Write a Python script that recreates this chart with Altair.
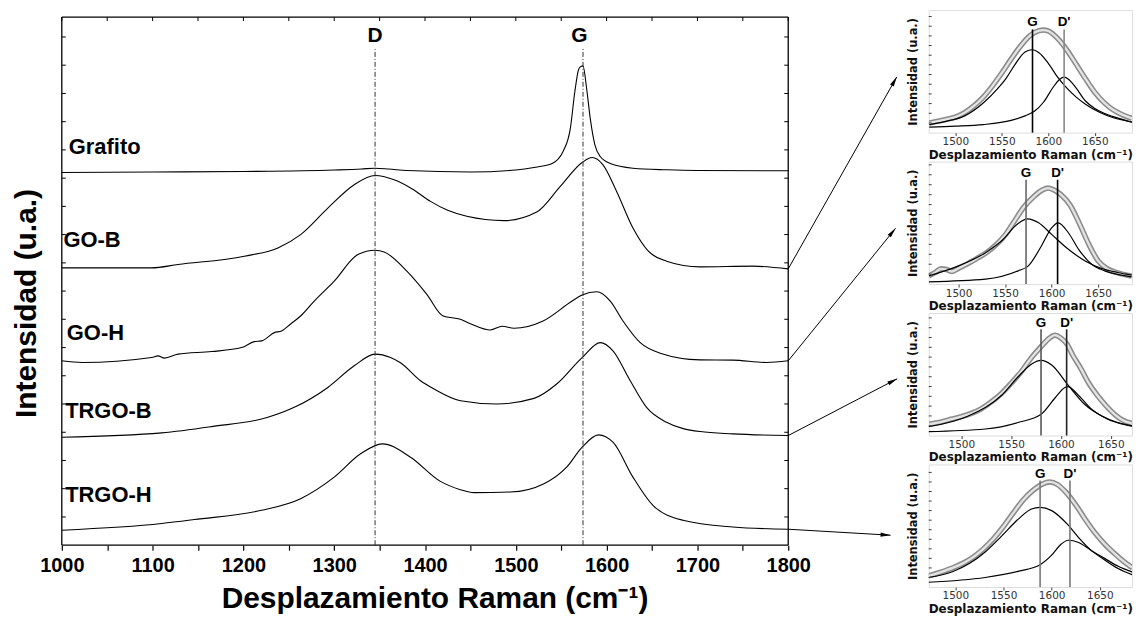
import math
import altair as alt
import pandas as pd

FONT = "Liberation Sans, Arial, Helvetica, sans-serif"
IFONT = "DejaVu Sans, Verdana, sans-serif"

# ---------------- main panel data (x in cm-1, y in arbitrary stacked units) ----------------
grafito_x = [1000, 1100, 1200, 1300, 1330, 1345, 1360, 1380, 1450, 1500, 1520, 1540, 1552, 1560, 1565, 1569, 1571, 1574, 1578, 1582, 1587, 1593, 1604, 1629, 1666, 1700, 1800]
grafito_y = [374, 374.5, 375, 376.5, 377.5, 378.3, 377.5, 376, 374.5, 376.5, 379, 383, 395, 418, 455, 477, 480, 481, 458, 428, 402, 390, 383, 378.3, 376.7, 376, 375.7]

go_b_x = [1000, 1099, 1128, 1201, 1238, 1263, 1293, 1322, 1345, 1366, 1386, 1406, 1425, 1446, 1487, 1523, 1549, 1573, 1584, 1596, 1611, 1629, 1646, 1666, 1703, 1761, 1800]
go_b_y = [278.3, 278.3, 281.7, 290, 298.3, 311.7, 338.3, 361.7, 371, 366.7, 357.5, 345, 336, 330, 325.7, 334.3, 360, 384, 389, 381.7, 355, 318.3, 295, 285, 279.3, 280, 277.3]

go_h_x = [1000, 1022, 1099, 1106, 1113, 1128, 1165, 1198, 1212, 1220, 1234, 1242, 1252, 1263, 1278, 1300, 1326, 1345, 1355, 1380, 1402, 1420, 1439, 1450, 1472, 1485, 1498, 1530, 1562, 1573, 1589, 1604, 1618, 1637, 1659, 1703, 1739, 1776, 1800]
go_h_y = [185, 183.3, 188.3, 190, 187.7, 191.7, 194.3, 198.3, 204.3, 205, 213.3, 215, 222, 230, 245, 265, 291.7, 296, 294.3, 275, 251.7, 230, 226.7, 222.3, 216, 219.7, 217.7, 225, 245, 251, 254.3, 245, 225, 203.3, 192.7, 186, 185.7, 183.3, 185]

trgo_b_x = [1000, 1110, 1165, 1227, 1256, 1293, 1322, 1345, 1362, 1373, 1395, 1410, 1439, 1479, 1520, 1545, 1573, 1593, 1607, 1626, 1644, 1666, 1703, 1739, 1800]
trgo_b_y = [108.3, 112.7, 119, 128.3, 138.3, 158.3, 180, 191.7, 188.3, 183, 165, 156.7, 145, 141.7, 147.3, 161.7, 188.3, 203.3, 195, 165, 138.3, 123.3, 114, 111.7, 110]

trgo_h_x = [1000, 1110, 1146, 1220, 1263, 1300, 1329, 1353, 1384, 1417, 1439, 1454, 1494, 1531, 1556, 1573, 1591, 1607, 1629, 1651, 1684, 1739, 1800]
trgo_h_y = [15, 21.7, 25.7, 35, 46.7, 68.3, 91.7, 101.7, 88.3, 64, 55.7, 52.7, 53.3, 61.7, 78.3, 98.3, 110.7, 103.3, 68.3, 40, 25, 18.3, 16]

series_names = ["Grafito", "GO-B", "GO-H", "TRGO-B", "TRGO-H"]
series_xy = [(grafito_x, grafito_y), (go_b_x, go_b_y), (go_h_x, go_h_y),
             (trgo_b_x, trgo_b_y), (trgo_h_x, trgo_h_y)]

label_x = [1007.7, 1001.8, 1005.5, 1003.7, 1003.7]
label_y = [400, 306, 212.7, 135, 50.7]

peak_names = ["D", "G"]
peak_pos = [1345, 1574]
peak_label_x = [1345, 1570]
peak_label_y = [511, 511]
peak_line_top = [498, 498]

# arrows from the end of each spectrum towards the insets
arrow_x1 = [1800, 1800, 1800, 1800]
arrow_y1 = [277.3, 185, 110, 16]
arrow_x2 = [1919.6, 1918.2, 1920.0, 1912.7]
arrow_y2 = [470, 318, 167, 10]

# plot frame (x from, x to, y from, y to) and tick positions
frame_x1 = [1000, 1000, 1000, 1800]
frame_x2 = [1800, 1800, 1000, 1800]
frame_y1 = [0, 530, 0, 0]
frame_y2 = [0, 530, 530, 530]
x_ticks = list(range(1000, 1801, 50))
y_minor_ticks = [28.3, 56.7, 85, 113.3, 141.7, 170, 198.3, 226.7, 255, 283.3, 311.7, 340, 368.3, 396.7, 425, 453.3, 481.7, 510]

# ---------------- insets data ----------------
inset_ticks = [1500, 1550, 1600, 1650]
inset_minor_y = [30, 60, 90, 120, 150, 180, 210, 240, 270, 300, 330, 360]

i1_cx = [1472, 1480, 1490, 1500, 1510, 1520, 1530, 1540, 1550, 1560, 1570, 1580, 1590, 1595, 1600, 1610, 1620, 1630, 1640, 1650, 1660, 1670, 1680, 1690]
i1_cy = [30, 35, 41, 48, 62, 83, 110, 145, 185, 228, 268, 300, 316, 318, 315, 292, 256, 212, 167, 125, 93, 70, 55, 44]
i1_gx = [1472, 1490, 1510, 1530, 1545, 1555, 1565, 1575, 1583, 1590, 1600, 1610, 1620, 1630, 1640, 1655, 1670, 1690]
i1_gy = [25, 35, 52, 92, 135, 170, 215, 250, 257, 248, 215, 172, 138, 110, 88, 63, 46, 33]
i1_dx = [1472, 1500, 1530, 1560, 1575, 1585, 1595, 1605, 1612, 1617, 1622, 1630, 1640, 1650, 1660, 1675, 1690]
i1_dy = [17, 20, 25, 38, 52, 66, 95, 140, 165, 172, 165, 138, 98, 75, 60, 45, 32]

i2_cx = [1468, 1475, 1481, 1487, 1493, 1500, 1510, 1520, 1530, 1540, 1550, 1560, 1570, 1580, 1590, 1596, 1602, 1610, 1620, 1630, 1640, 1650, 1660, 1670, 1686]
i2_cy = [25, 35, 46, 44, 38, 48, 62, 78, 95, 118, 148, 190, 232, 262, 284, 290, 285, 270, 238, 182, 120, 70, 46, 35, 24]
i2_gx = [1468, 1500, 1529, 1546, 1564, 1574, 1586, 1600, 1618, 1636, 1654, 1671, 1686]
i2_gy = [25, 55, 95, 130, 183, 197, 185, 150, 105, 70, 47, 35, 27]
i2_dx = [1468, 1529, 1564, 1575, 1589, 1600, 1607, 1618, 1629, 1643, 1657, 1675, 1686]
i2_dy = [7, 15, 40, 55, 115, 170, 185, 155, 105, 60, 40, 27, 22]

i3_cx = [1468, 1480, 1490, 1500, 1510, 1520, 1530, 1540, 1550, 1560, 1570, 1580, 1588, 1594, 1600, 1606, 1612, 1620, 1628, 1636, 1645, 1655, 1662, 1671]
i3_cy = [35, 42, 50, 58, 68, 82, 103, 128, 160, 195, 237, 272, 297, 307, 298, 280, 245, 205, 160, 125, 92, 62, 47, 37]
i3_gx = [1467, 1507, 1541, 1557, 1571, 1580, 1591, 1607, 1624, 1641, 1657, 1672]
i3_gy = [27, 60, 125, 180, 220, 230, 215, 155, 95, 60, 40, 30]
i3_dx = [1467, 1524, 1557, 1580, 1594, 1604, 1607, 1617, 1631, 1647, 1664, 1672]
i3_dy = [12, 20, 40, 65, 115, 147, 150, 125, 80, 50, 33, 28]

i4_cx = [1472, 1485, 1497, 1510, 1520, 1530, 1540, 1550, 1560, 1570, 1580, 1590, 1598, 1606, 1615, 1625, 1635, 1645, 1655, 1665, 1675, 1684]
i4_cy = [35, 47, 60, 78, 97, 122, 153, 190, 232, 272, 302, 323, 330, 322, 297, 258, 212, 170, 135, 106, 80, 60]
i4_gx = [1472, 1497, 1531, 1548, 1566, 1579, 1588, 1600, 1617, 1628, 1641, 1655, 1669, 1684]
i4_gy = [30, 48, 110, 160, 215, 245, 250, 240, 195, 155, 115, 85, 58, 38]
i4_dx = [1472, 1531, 1566, 1588, 1600, 1610, 1617, 1628, 1641, 1655, 1669, 1684]
i4_dy = [15, 30, 50, 70, 100, 135, 147, 140, 115, 90, 65, 47]

inset_g_pos = [1583, 1572.5, 1580, 1588]
inset_d_pos = [1617, 1606.4, 1605.7, 1619]
inset_line_top = [320, 315, 325, 335]
inset_label_y = [343, 335, 345, 355]
inset_xdom = [[1471.4, 1690], [1467.9, 1686.4], [1467.3, 1671.3], [1472.4, 1683.4]]
inset_ydom = [[0, 380], [0, 370], [0, 375], [0, 385]]
inset_g_color = ["#000000", "#666666", "#555555", "#777777"]
inset_d_color = ["#888888", "#000000", "#222222", "#777777"]

# ---------------- main chart ----------------
MAIN_W, MAIN_H = 729, 537          # 7 px blank band above the 530 px frame
xs = alt.Scale(domain=[1000, 1800], nice=False, zero=False)
ys = alt.Scale(domain=[0, 537], nice=False, zero=False)

rows = []
for name, (sx, sy) in zip(series_names, series_xy):
    for a, b in zip(sx, sy):
        rows.append({"series": name, "x": a, "y": b})
df_main = pd.DataFrame(rows)

x_axis = alt.Axis(orient="bottom", values=x_ticks, format="d",
                  labelExpr="datum.value % 100 === 0 ? datum.label : ''",
                  tickSize=5, tickColor="black", tickWidth=1.2,
                  labelFont=FONT, labelFontSize=20, labelFontWeight="bold", labelColor="black",
                  labelPadding=5, labelFlush=False, labelOverlap=False,
                  domain=False, grid=False,
                  title="Desplazamiento Raman (cm⁻¹)", titleFont=FONT, titleFontSize=30,
                  titleFontWeight="bold", titleColor="black", titlePadding=9,
                  titleX=374, titleAlign="center")
y_axis = alt.Axis(orient="left", labels=False, ticks=False, domain=False, grid=False,
                  title="Intensidad (u.a.)", titleFont=FONT, titleFontSize=30,
                  titleFontWeight="bold", titleColor="black", titlePadding=20,
                  minExtent=0, titleY=294, titleAlign="center")

spectra = alt.Chart(df_main).mark_line(color="black", strokeWidth=1.1, interpolate="monotone").encode(
    x=alt.X("x:Q", scale=xs, axis=x_axis),
    y=alt.Y("y:Q", scale=ys, axis=y_axis),
    detail="series:N",
)

frame_df = pd.DataFrame({"x1": frame_x1, "x2": frame_x2, "y1": frame_y1, "y2": frame_y2})
frame = alt.Chart(frame_df).mark_rule(color="black", strokeWidth=1.3).encode(
    x=alt.X("x1:Q", scale=xs, axis=None), x2="x2:Q",
    y=alt.Y("y1:Q", scale=ys, axis=None), y2="y2:Q",
)

peaks_df = pd.DataFrame({"name": peak_names, "x": peak_pos, "y0": [0, 0], "y1": peak_line_top,
                         "lx": peak_label_x, "ly": peak_label_y})
peak_lines = alt.Chart(peaks_df).mark_rule(color="#333333", strokeWidth=1, strokeDash=[5, 2, 1, 2]).encode(
    x=alt.X("x:Q", scale=xs, axis=None),
    y=alt.Y("y0:Q", scale=ys, axis=None),
    y2="y1:Q",
)
peak_text = alt.Chart(peaks_df).mark_text(font=FONT, fontSize=21, fontWeight="bold", color="black",
                                          align="center", baseline="middle").encode(
    x=alt.X("lx:Q", scale=xs, axis=None),
    y=alt.Y("ly:Q", scale=ys, axis=None),
    text="name:N",
)

labels_df = pd.DataFrame({"label": series_names, "x": label_x, "y": label_y})
series_text = alt.Chart(labels_df).mark_text(font=FONT, fontSize=22, fontWeight="bold", color="black",
                                             align="left", baseline="middle").encode(
    x=alt.X("x:Q", scale=xs, axis=None),
    y=alt.Y("y:Q", scale=ys, axis=None),
    text="label:N",
)

px_per_x = MAIN_W / 800.0
px_per_y = MAIN_H / 537.0
angles = []
for a1, b1, a2, b2 in zip(arrow_x1, arrow_y1, arrow_x2, arrow_y2):
    dx = (a2 - a1) * px_per_x
    dy_up = (b2 - b1) * px_per_y
    angles.append(math.degrees(math.atan2(dx, dy_up)) % 360)
arrows_df = pd.DataFrame({"x1": arrow_x1, "y1": arrow_y1, "x2": arrow_x2, "y2": arrow_y2, "ang": angles})
arrow_lines = alt.Chart(arrows_df).mark_rule(color="black", strokeWidth=1, clip=False).encode(
    x=alt.X("x1:Q", scale=xs, axis=None),
    y=alt.Y("y1:Q", scale=ys, axis=None),
    x2="x2:Q",
    y2="y2:Q",
)
ARROW = "M0,0L0.42,2L-0.42,2Z"
arrow_heads = alt.Chart(arrows_df).mark_point(shape=ARROW, filled=True, color="black", size=100,
                                               opacity=1, strokeWidth=0, clip=False).encode(
    x=alt.X("x2:Q", scale=xs, axis=None),
    y=alt.Y("y2:Q", scale=ys, axis=None),
    angle=alt.Angle("ang:Q", scale=None),
)

top_ticks = alt.Chart(pd.DataFrame({"t": x_ticks, "ya": [530] * len(x_ticks), "yb": [526] * len(x_ticks)})
                      ).mark_rule(color="black", strokeWidth=1).encode(
    x=alt.X("t:Q", scale=xs, axis=None),
    y=alt.Y("ya:Q", scale=ys, axis=None),
    y2="yb:Q",
)
left_ticks = alt.Chart(pd.DataFrame({"v": y_minor_ticks})).mark_rule(color="black", strokeWidth=1).encode(
    y=alt.Y("v:Q", scale=ys, axis=None),
    x=alt.value(0),
    x2=alt.value(4),
)
right_ticks = alt.Chart(pd.DataFrame({"v": y_minor_ticks})).mark_rule(color="black", strokeWidth=1).encode(
    y=alt.Y("v:Q", scale=ys, axis=None),
    x=alt.value(MAIN_W - 4),
    x2=alt.value(MAIN_W),
)

main = alt.layer(spectra, frame, peak_lines, peak_text, series_text, arrow_lines, arrow_heads,
                 top_ticks, left_ticks, right_ticks).resolve_axis(
    x="independent", y="independent").properties(
    width=MAIN_W, height=MAIN_H, view=alt.ViewBackground(stroke="transparent"))


# ---------------- insets ----------------
INSET_W, INSET_H = 204, 123


def make_inset(k, cx, cy, gx, gy, dx, dy):
    xsc = alt.Scale(domain=inset_xdom[k], nice=False, zero=False)
    ysc = alt.Scale(domain=inset_ydom[k], nice=False, zero=False)
    xaxis = alt.Axis(values=inset_ticks, format="d", labelFont=IFONT, labelFontSize=10.5,
                     labelColor="#333333", labelPadding=1, tickSize=3, tickColor="#444444",
                     domain=False, grid=False, labelFlush=False, labelOverlap=False,
                     title="Desplazamiento Raman (cm⁻¹)", titleFont=IFONT, titleFontSize=12,
                     titleFontWeight="bold", titleColor="#111111", titlePadding=2)
    yaxis = alt.Axis(labels=False, ticks=False, domain=False, grid=False, minExtent=0,
                     title="Intensidad (u.a.)", titleFont=IFONT, titleFontSize=11.5,
                     titleFontWeight="bold", titleColor="#111111", titlePadding=10)
    band = pd.DataFrame({"x": cx, "y": cy})
    outer = alt.Chart(band).mark_line(color="#8c8c8c", strokeWidth=5.5, interpolate="monotone",
                                      clip=True).encode(
        x=alt.X("x:Q", scale=xsc, axis=xaxis), y=alt.Y("y:Q", scale=ysc, axis=yaxis))
    inner = alt.Chart(band).mark_line(color="#e4e4e4", strokeWidth=2.3, interpolate="monotone",
                                      clip=True).encode(
        x=alt.X("x:Q", scale=xsc, axis=None), y=alt.Y("y:Q", scale=ysc, axis=None))
    gfit = alt.Chart(pd.DataFrame({"x": gx, "y": gy})).mark_line(
        color="black", strokeWidth=1.2, interpolate="monotone", clip=True).encode(
        x=alt.X("x:Q", scale=xsc, axis=None), y=alt.Y("y:Q", scale=ysc, axis=None))
    dfit = alt.Chart(pd.DataFrame({"x": dx, "y": dy})).mark_line(
        color="black", strokeWidth=1.2, interpolate="monotone", clip=True).encode(
        x=alt.X("x:Q", scale=xsc, axis=None), y=alt.Y("y:Q", scale=ysc, axis=None))
    vl = pd.DataFrame({"x": [inset_g_pos[k], inset_d_pos[k]], "y0": [0, 0],
                       "y1": [inset_line_top[k], inset_line_top[k]],
                       "c": [inset_g_color[k], inset_d_color[k]],
                       "lab": ["G", "D'"], "ly": [inset_label_y[k], inset_label_y[k]]})
    vlines = alt.Chart(vl).mark_rule(strokeWidth=1.6).encode(
        x=alt.X("x:Q", scale=xsc, axis=None), y=alt.Y("y0:Q", scale=ysc, axis=None), y2="y1:Q",
        color=alt.Color("c:N", scale=None))
    vtext = alt.Chart(vl).mark_text(font=FONT, fontSize=13.5, fontWeight="bold", color="black",
                                    align="center", baseline="middle").encode(
        x=alt.X("x:Q", scale=xsc, axis=None), y=alt.Y("ly:Q", scale=ysc, axis=None), text="lab:N")
    lticks = alt.Chart(pd.DataFrame({"v": inset_minor_y})).mark_rule(
        color="#444444", strokeWidth=1).encode(
        y=alt.Y("v:Q", scale=ysc, axis=None), x=alt.value(0), x2=alt.value(3))
    return alt.layer(outer, inner, gfit, dfit, vlines, vtext, lticks).resolve_axis(
        x="independent", y="independent").properties(width=INSET_W, height=INSET_H)


insets = alt.vconcat(
    make_inset(0, i1_cx, i1_cy, i1_gx, i1_gy, i1_dx, i1_dy),
    make_inset(1, i2_cx, i2_cy, i2_gx, i2_gy, i2_dx, i2_dy),
    make_inset(2, i3_cx, i3_cy, i3_gx, i3_gy, i3_dx, i3_dy),
    make_inset(3, i4_cx, i4_cy, i4_gx, i4_gy, i4_dx, i4_dy),
    spacing=0,
)

chart = alt.hconcat(main, insets, spacing=8,
                    padding={"left": 3, "top": 0, "right": 0, "bottom": 0}).configure_view(
    stroke="#222222", strokeWidth=1.1).configure(background="white")

chart.save("out.html", embed_options={"renderer": "svg", "actions": False})
